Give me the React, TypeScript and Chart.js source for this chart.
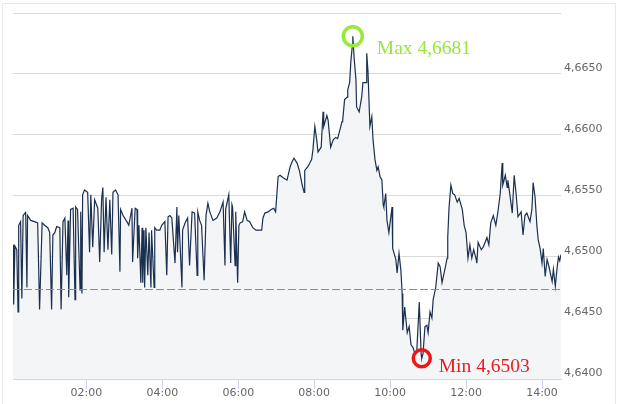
import React, { useEffect, useRef } from 'react';
import { Chart, registerables } from 'chart.js';

Chart.register(...registerables);

// Minutes since midnight
const TIMES: number[] = [
  4, 5, 7, 10, 12, 13, 16, 18, 20, 23, 24, 26, 27, 32, 38, 43, 46, 50, 54, 59,
  62, 65, 67, 70, 73, 78, 80, 83, 86, 89, 91, 92, 95, 99, 102, 103, 106, 110, 111, 113,
  114, 117, 122, 125, 127, 130, 133, 138, 141, 144, 146, 148, 151, 154, 157, 160, 162, 166, 170, 173,
  174, 178, 184, 187, 192, 193, 197, 200, 201, 203, 206, 208, 209, 211, 212, 214, 217, 219, 222, 223,
  227, 228, 231, 236, 239, 244, 247, 249, 252, 255, 260, 263, 264, 266, 271, 272, 276, 280, 283, 287,
  291, 295, 296, 299, 302, 306, 309, 312, 315, 320, 326, 331, 336, 339, 340, 345, 348, 350, 351, 355,
  356, 359, 361, 363, 367, 370, 374, 378, 383, 388, 393, 397, 399, 402, 407, 412, 416, 419, 423, 426,
  431, 437, 442, 445, 448, 453, 457, 461, 464, 465, 470, 473, 476, 478, 481, 484, 486, 491, 494, 495,
  500, 502, 506, 510, 514, 517, 524, 525, 528, 532, 533, 536, 538, 540, 541, 543, 546, 547, 551, 555,
  557, 562, 563, 565, 568, 571, 573, 576, 579, 581, 584, 587, 589, 590, 593, 595, 598, 603, 604, 609,
  611, 614, 617, 619, 620, 623, 627, 630, 633, 636, 639, 642, 646, 649, 650, 652, 655, 658, 660, 663,
  666, 668, 672, 676, 679, 682, 687, 690, 691, 693, 696, 699, 702, 706, 709, 714, 717, 720, 723, 726,
  729, 732, 736, 737, 739, 744, 747, 753, 756, 759, 763, 767, 770, 774, 777, 778, 782, 785, 786, 789,
  793, 796, 799, 802, 807, 810, 813, 816, 821, 824, 826, 829, 832, 834, 837, 840, 842, 845, 848, 851,
  856, 858, 861, 864, 866, 868, 870,
];

const VALUES: number[] = [
  4.6510, 4.6461, 4.6509, 4.6506, 4.6455, 4.6526, 4.6529, 4.6466, 4.6534, 4.6536, 4.6537, 4.6475, 4.6534, 4.6530, 4.6529, 4.6528, 4.6457, 4.6528, 4.6526, 4.6524,
  4.6520, 4.6457, 4.6518, 4.6520, 4.6525, 4.6524, 4.6457, 4.6529, 4.6532, 4.6485, 4.6530, 4.6467, 4.6539, 4.6540, 4.6465, 4.6541, 4.6539, 4.6473, 4.6537, 4.6470,
  4.6551, 4.6555, 4.6553, 4.6504, 4.6551, 4.6508, 4.6547, 4.6540, 4.6496, 4.6547, 4.6557, 4.6504, 4.6549, 4.6506, 4.6547, 4.6502, 4.6553, 4.6555, 4.6551, 4.6488,
  4.6539, 4.6534, 4.6529, 4.6526, 4.6540, 4.6496, 4.6540, 4.6539, 4.6499, 4.6526, 4.6479, 4.6524, 4.6479, 4.6522, 4.6475, 4.6524, 4.6485, 4.6520, 4.6475, 4.6522,
  4.6475, 4.6524, 4.6522, 4.6522, 4.6526, 4.6529, 4.6485, 4.6533, 4.6534, 4.6532, 4.6495, 4.6541, 4.6504, 4.6534, 4.6475, 4.6522, 4.6528, 4.6532, 4.6493, 4.6537,
  4.6536, 4.6485, 4.6537, 4.6530, 4.6526, 4.6481, 4.6534, 4.6544, 4.6537, 4.6530, 4.6532, 4.6537, 4.6545, 4.6493, 4.6539, 4.6551, 4.6495, 4.6543, 4.6541, 4.6493,
  4.6537, 4.6479, 4.6526, 4.6528, 4.6529, 4.6537, 4.6530, 4.6529, 4.6524, 4.6522, 4.6522, 4.6522, 4.6532, 4.6536, 4.6537, 4.6539, 4.6540, 4.6537, 4.6566, 4.6567,
  4.6565, 4.6563, 4.6574, 4.6578, 4.6581, 4.6577, 4.6570, 4.6559, 4.6553, 4.6571, 4.6574, 4.6577, 4.6580, 4.6588, 4.6607, 4.6596, 4.6586, 4.6590, 4.6619, 4.6607,
  4.6616, 4.6612, 4.6590, 4.6596, 4.6598, 4.6597, 4.6611, 4.6612, 4.6629, 4.6631, 4.6637, 4.6643, 4.6661, 4.6672, 4.6681, 4.6664, 4.6645, 4.6623, 4.6619, 4.6631,
  4.6643, 4.6643, 4.6667, 4.6652, 4.6607, 4.6615, 4.6596, 4.6580, 4.6571, 4.6574, 4.6566, 4.6563, 4.6543, 4.6541, 4.6552, 4.6530, 4.6520, 4.6541, 4.6507, 4.6498,
  4.6487, 4.6503, 4.6489, 4.6470, 4.6440, 4.6459, 4.6438, 4.6443, 4.6428, 4.6426, 4.6421, 4.6422, 4.6463, 4.6420, 4.6417, 4.6421, 4.6443, 4.6444, 4.6438, 4.6455,
  4.6450, 4.6465, 4.6475, 4.6495, 4.6492, 4.6479, 4.6491, 4.6499, 4.6516, 4.6540, 4.6559, 4.6552, 4.6551, 4.6545, 4.6548, 4.6539, 4.6526, 4.6520, 4.6499, 4.6510,
  4.6499, 4.6506, 4.6498, 4.6495, 4.6512, 4.6506, 4.6508, 4.6516, 4.6510, 4.6528, 4.6534, 4.6526, 4.6536, 4.6552, 4.6577, 4.6559, 4.6567, 4.6557, 4.6563, 4.6552,
  4.6536, 4.6567, 4.6552, 4.6533, 4.6537, 4.6518, 4.6534, 4.6536, 4.6529, 4.6539, 4.6561, 4.6549, 4.6525, 4.6514, 4.6507, 4.6495, 4.6507, 4.6484, 4.6498, 4.6492,
  4.6480, 4.6490, 4.6476, 4.6492, 4.6500, 4.6497, 4.6502,
];

const X_TICKS: number[] = [120, 240, 360, 480, 600, 720, 840];
const Y_TICKS: number[] = [4.64, 4.645, 4.65, 4.655, 4.66, 4.665, 4.67];
const Y_MIN = 4.64;
const Y_MAX = 4.67;
const REF_VALUE = 4.6474;
const MAX_LABEL = 'Max 4,6681';
const MIN_LABEL = 'Min 4,6503';

const pad2 = (n: number) => (n < 10 ? '0' + n : '' + n);
const fmtTime = (m: number) => pad2(Math.floor(m / 60)) + ':' + pad2(Math.round(m % 60));

const annotPlugin = {
  id: 'annot',
  afterDatasetsDraw(chart: any) {
    const { ctx, chartArea, scales } = chart;
    const x = scales.x;
    const y = scales.y;
    ctx.save();
    // reference dashed line
    const yr = Math.round(y.getPixelForValue(REF_VALUE)) + 0.5;
    ctx.beginPath();
    ctx.setLineDash([8, 3]);
    ctx.strokeStyle = '#e8675f';
    ctx.lineWidth = 1;
    ctx.moveTo(chartArea.left, yr);
    ctx.lineTo(chartArea.right, yr);
    ctx.stroke();
    ctx.setLineDash([]);

    let iMax = 0;
    let iMin = 0;
    VALUES.forEach((v, i) => {
      if (v > VALUES[iMax]) iMax = i;
      if (v < VALUES[iMin]) iMin = i;
    });

    // max marker
    const mx = x.getPixelForValue(TIMES[iMax]);
    const my = y.getPixelForValue(VALUES[iMax]);
    ctx.strokeStyle = '#97ea3a';
    ctx.lineWidth = 3.5;
    ctx.beginPath();
    ctx.arc(mx, my, 9.5, 0, Math.PI * 2);
    ctx.stroke();
    ctx.fillStyle = '#94e83a';
    ctx.font = '19.5px "Liberation Serif", "Times New Roman", serif';
    ctx.textBaseline = 'alphabetic';
    ctx.textAlign = 'left';
    ctx.fillText(MAX_LABEL, mx + 24, my + 18);

    // min marker
    const nx = x.getPixelForValue(TIMES[iMin]);
    const ny = y.getPixelForValue(VALUES[iMin]);
    ctx.strokeStyle = '#ee1515';
    ctx.lineWidth = 3.5;
    ctx.beginPath();
    ctx.arc(nx, ny, 8.5, 0, Math.PI * 2);
    ctx.stroke();
    ctx.fillStyle = '#e81c1c';
    ctx.fillText(MIN_LABEL, nx + 17, ny + 14);
    ctx.restore();
  },
};

export default function App() {
  const canvasRef = useRef<HTMLCanvasElement | null>(null);

  useEffect(() => {
    if (!canvasRef.current) return;
    const tickFont = { family: '"DejaVu Sans", sans-serif', size: 11 };
    const chart = new Chart(canvasRef.current, {
      type: 'line',
      data: {
        datasets: [
          {
            data: TIMES.map((t, i) => ({ x: t, y: VALUES[i] })),
            borderColor: '#1b2f4e',
            borderWidth: 1.2,
            backgroundColor: '#f4f5f7',
            fill: 'start',
            pointRadius: 0,
            tension: 0,
          },
        ],
      },
      options: {
        animation: false,
        responsive: true,
        maintainAspectRatio: false,
        layout: { padding: { left: 13, top: 13, right: 0, bottom: 0 } },
        plugins: { legend: { display: false }, tooltip: { enabled: false } },
        scales: {
          x: {
            type: 'linear',
            min: TIMES[0],
            max: TIMES[TIMES.length - 1],
            afterBuildTicks: (axis: any) => {
              axis.ticks = X_TICKS.map((v) => ({ value: v }));
            },
            afterFit: (axis: any) => {
              axis.height = 25;
            },
            grid: { drawOnChartArea: false, drawTicks: true, tickLength: 10, color: '#ccd6eb' },
            border: { display: true, color: '#ccd6eb' },
            ticks: {
              padding: -2,
              color: '#666666',
              font: tickFont,
              maxRotation: 0,
              autoSkip: false,
              callback: (v: any) => fmtTime(Number(v)),
            },
          },
          y: {
            position: 'right',
            min: Y_MIN,
            max: Y_MAX,
            afterBuildTicks: (axis: any) => {
              axis.ticks = Y_TICKS.map((v) => ({ value: v }));
            },
            afterFit: (axis: any) => {
              axis.width = 59;
            },
            grid: { color: '#dadada', drawTicks: false },
            border: { display: false },
            ticks: {
              crossAlign: 'near',
              padding: 3,
              labelOffset: -6,
              color: '#666666',
              font: tickFont,
              callback: (v: any) => (Number(v) >= Y_MAX - 1e-6 ? '' : Number(v).toFixed(4).replace('.', ',')),
            },
          },
        },
      },
      plugins: [annotPlugin],
    } as any);
    return () => chart.destroy();
  }, []);

  return (
    <div style={{ position: 'fixed', left: 0, top: 0, width: 620, height: 404, background: '#fff', overflow: 'hidden' }}>
      <div
        style={{
          position: 'absolute',
          left: 2,
          top: 3,
          width: 614,
          height: 420,
          border: '1px solid #e8e8e8',
          boxSizing: 'border-box',
        }}
      />
      <div style={{ position: 'absolute', left: 0, top: 0, width: 620, height: 404 }}>
        <canvas ref={canvasRef} />
      </div>
    </div>
  );
}
